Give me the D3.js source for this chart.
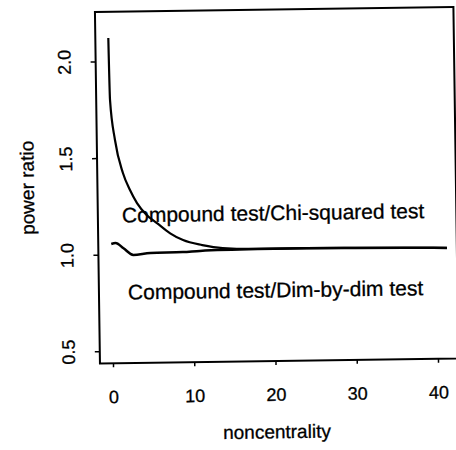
<!DOCTYPE html>
<html><head><meta charset="utf-8">
<script src="https://cdn.jsdelivr.net/npm/d3@7"></script>
<style>html,body{margin:0;padding:0;background:#fff} svg{display:block} text{stroke:#000;stroke-width:0.3px}</style>
</head><body><svg id="chart" width="456" height="450"></svg>
<script>
// ---- data ----
const chiNoncentrality = [0, 0.1, 0.64, 1.56, 2.4, 3.24, 4.4, 5.66, 7.27, 8.84, 11.2, 13.7, 17.9, 24, 30, 36, 41.3];
const chiRatio         = [2.121, 1.800, 1.592, 1.421, 1.332, 1.264, 1.202, 1.159, 1.105, 1.069, 1.042, 1.025, 1.018, 1.018, 1.016, 1.013, 1.009];
const dimNoncentrality = [0, 0.53, 1.5, 2.7, 4.8, 8.8, 10.9, 18, 24, 30, 36, 41.3];
const dimRatio         = [1.054, 1.059, 1.031, 0.996, 1.005, 1.007, 1.012, 1.017, 1.018, 1.016, 1.013, 1.009];
const xTicks = [0, 10, 20, 30, 40];
const yTicks = [0.5, 1.0, 1.5, 2.0];
const curveLabels = ["Compound test/Chi-squared test", "Compound test/Dim-by-dim test"];
const xTitle = "noncentrality";
const yTitle = "power ratio";

// ---- layout ----
const plot = {left: 98, right: 456.5, top: 10.2, bottom: 361.7};
const font = "'Liberation Sans', Arial, Helvetica, sans-serif";

const x = d3.scaleLinear().domain([-1.6, 42.52]).range([plot.left, plot.right]);
const y = d3.scaleLinear().domain([0.4363, 2.2557]).range([plot.bottom, plot.top]);

const svg = d3.select("#chart");
const g = svg.append("g").attr("transform", "rotate(-0.82,228,225)");

// curves
const line = d3.line().x(d => x(d[0])).y(d => y(d[1])).curve(d3.curveMonotoneX);
const chiData = chiNoncentrality.map((n, i) => [n, chiRatio[i]]);
const dimData = dimNoncentrality.map((n, i) => [n, dimRatio[i]]);
g.append("path").datum(chiData).attr("d", line)
  .attr("fill", "none").attr("stroke", "#000").attr("stroke-width", 2.2);
g.append("path").datum(dimData).attr("d", line)
  .attr("fill", "none").attr("stroke", "#000").attr("stroke-width", 2.5);

// box
g.append("rect").attr("x", plot.left).attr("y", plot.top)
  .attr("width", plot.right - plot.left).attr("height", plot.bottom - plot.top)
  .attr("fill", "none").attr("stroke", "#000").attr("stroke-width", 2);

// x axis
const xAxis = g.append("g").attr("transform", `translate(0,${plot.bottom})`)
  .call(d3.axisBottom(x).tickValues(xTicks).tickSize(4).tickPadding(0).tickFormat(d3.format("d")));
xAxis.select(".domain").remove();
xAxis.selectAll(".tick line").attr("stroke", "#000").attr("stroke-width", 1.5);
xAxis.selectAll(".tick text").attr("y", 0).attr("dy", 0)
  .attr("transform", "translate(0,39.8)")
  .attr("font-family", font).attr("font-size", 18).attr("fill", "#000");

// y axis
const yAxis = g.append("g").attr("transform", `translate(${plot.left},0)`)
  .call(d3.axisLeft(y).tickValues(yTicks).tickSize(5).tickFormat(d3.format(".1f")));
yAxis.select(".domain").remove();
yAxis.selectAll(".tick line").attr("stroke", "#000").attr("stroke-width", 1.5);
yAxis.selectAll(".tick text").attr("x", 0).attr("dy", 0)
  .attr("text-anchor", "middle")
  .attr("transform", `translate(${73 - plot.left},0) rotate(-90)`)
  .attr("font-family", font).attr("font-size", 18).attr("fill", "#000");

// curve labels (anchored in data coordinates, left-adjusted)
g.append("text").attr("x", x(1.37)).attr("y", y(1.165))
  .attr("font-family", font).attr("font-size", 21).attr("fill", "#000")
  .text(curveLabels[0]);
g.append("text").attr("x", x(1.97)).attr("y", y(0.766))
  .attr("font-family", font).attr("font-size", 21).attr("fill", "#000")
  .text(curveLabels[1]);

// axis titles
g.append("text").attr("x", 274).attr("y", 439).attr("text-anchor", "middle")
  .attr("font-family", font).attr("font-size", 19).attr("fill", "#000").text(xTitle);
g.append("text").attr("transform", "translate(34.5,185) rotate(-90)").attr("text-anchor", "middle")
  .attr("font-family", font).attr("font-size", 19).attr("fill", "#000").text(yTitle);
</script>
</body></html>
